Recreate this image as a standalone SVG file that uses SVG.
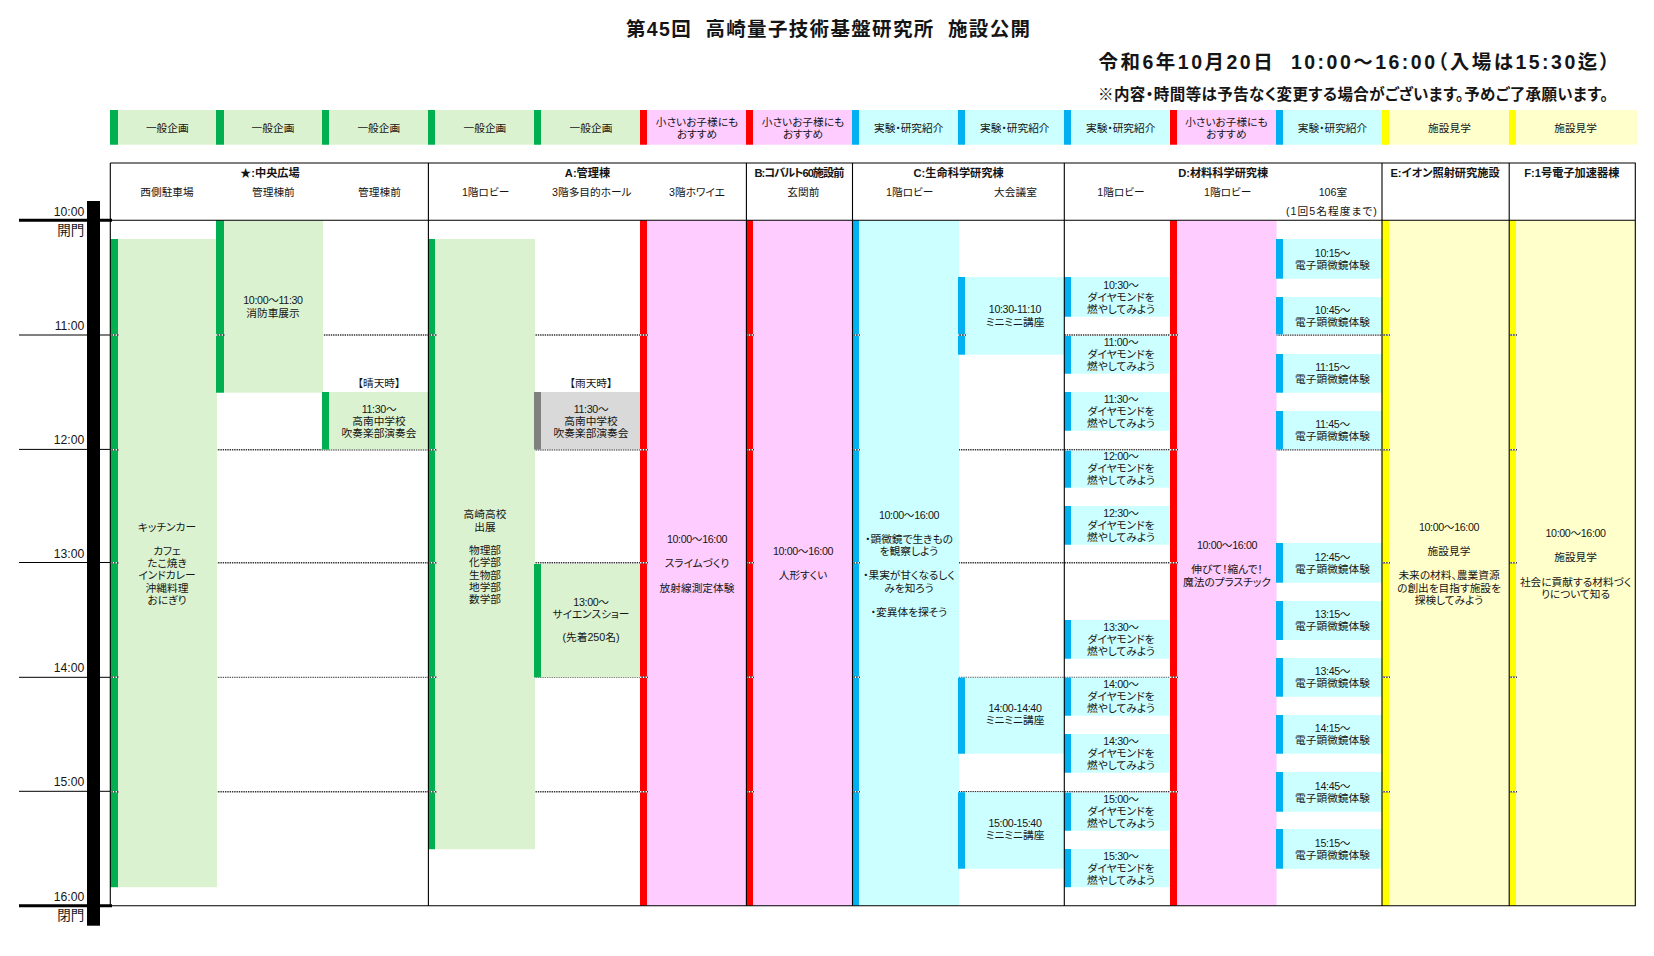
<svg xmlns="http://www.w3.org/2000/svg" width="1654" height="956" viewBox="0 0 1654 956">
<style>
text{font-family:"Liberation Sans","Noto Sans CJK JP",sans-serif;fill:#151515;font-size:10.7px;text-anchor:middle;font-feature-settings:"palt";white-space:pre}
.b{font-weight:700;font-size:11.2px}
.h{font-size:12.2px;text-anchor:end}
.k{font-size:13.5px;text-anchor:end}
.tm{letter-spacing:-.36px}
.lg{fill:#DAF2D0}.lc{fill:#CCFFFF}.lp{fill:#FFCCFF}.ly{fill:#FFFFCC}.lk{fill:#D9D9D9}
.dg{fill:#00B050}.dc{fill:#00B0F0}.dp{fill:#FF0000}.dy{fill:#FFFF00}.dk{fill:#808080}
.grid{stroke:#333;stroke-width:1.6;stroke-dasharray:1.4 .9;fill:none}
.thin{stroke-width:1}
.tb{stroke:#000;stroke-width:1.1;fill:none}
.stub{stroke:#333;stroke-width:1.4;fill:none}
.stubw{stroke:#fff;stroke-width:1.4;stroke-dasharray:1.4 1.4;fill:none}
</style>
<rect width="1654" height="956" fill="#fff"/>
<g id="title">
<text x="828" y="36" class="b" style="font-size:19.5px" textLength="404">第45回  高崎量子技術基盤研究所  施設公開</text>
<text x="1354" y="68.5" style="font-size:19.5px;font-weight:700" textLength="511">令和6年10月20日  10:00～16:00（入場は15:30迄）</text>
<text x="1353" y="99.5" style="font-size:15.5px;font-weight:700" textLength="510">※内容・時間等は予告なく変更する場合がございます。予めご了承願います。</text>
</g>
<g id="legend">
<g id="chip1"><rect x="110" y="110" width="106" height="34.7" class="lg"/><rect x="110" y="110" width="8" height="34.7" class="dg"/><text x="167.3" y="132.3">一般企画</text></g>
<g id="chip2"><rect x="216" y="110" width="106" height="34.7" class="lg"/><rect x="216" y="110" width="8" height="34.7" class="dg"/><text x="273" y="132.3">一般企画</text></g>
<g id="chip3"><rect x="322" y="110" width="106" height="34.7" class="lg"/><rect x="322" y="110" width="7" height="34.7" class="dg"/><text x="378.8" y="132.3">一般企画</text></g>
<g id="chip4"><rect x="428" y="110" width="106" height="34.7" class="lg"/><rect x="428" y="110" width="7" height="34.7" class="dg"/><text x="484.9" y="132.3">一般企画</text></g>
<g id="chip5"><rect x="534" y="110" width="106" height="34.7" class="lg"/><rect x="534" y="110" width="7" height="34.7" class="dg"/><text x="591" y="132.3">一般企画</text></g>
<g id="chip6"><rect x="640" y="110" width="106" height="34.7" class="lp"/><rect x="640" y="110" width="7" height="34.7" class="dp"/><text x="697" y="126.3">小さいお子様にも</text><text x="697" y="138">おすすめ</text></g>
<g id="chip7"><rect x="746" y="110" width="106" height="34.7" class="lp"/><rect x="746" y="110" width="7" height="34.7" class="dp"/><text x="803" y="126.3">小さいお子様にも</text><text x="803" y="138">おすすめ</text></g>
<g id="chip8"><rect x="852" y="110" width="106" height="34.7" class="lc"/><rect x="852" y="110" width="7" height="34.7" class="dc"/><text x="908.7" y="132.3">実験・研究紹介</text></g>
<g id="chip9"><rect x="958" y="110" width="106" height="34.7" class="lc"/><rect x="958" y="110" width="7" height="34.7" class="dc"/><text x="1014.8" y="132.3">実験・研究紹介</text></g>
<g id="chip10"><rect x="1064" y="110" width="106" height="34.7" class="lc"/><rect x="1064" y="110" width="7" height="34.7" class="dc"/><text x="1120.7" y="132.3">実験・研究紹介</text></g>
<g id="chip11"><rect x="1170" y="110" width="106" height="34.7" class="lp"/><rect x="1170" y="110" width="7" height="34.7" class="dp"/><text x="1226.4" y="126.3">小さいお子様にも</text><text x="1226.4" y="138">おすすめ</text></g>
<g id="chip12"><rect x="1276" y="110" width="106" height="34.7" class="lc"/><rect x="1276" y="110" width="7" height="34.7" class="dc"/><text x="1332.5" y="132.3">実験・研究紹介</text></g>
<g id="chip13"><rect x="1382" y="110" width="127" height="34.7" class="ly"/><rect x="1382" y="110" width="7" height="34.7" class="dy"/><text x="1449.5" y="132.3">施設見学</text></g>
<g id="chip14"><rect x="1509" y="110" width="128" height="34.7" class="ly"/><rect x="1509" y="110" width="7" height="34.7" class="dy"/><text x="1575.6" y="132.3">施設見学</text></g>
</g>
<g id="grid-back">
<path class="grid" d="M110 335H1635M110 449.7H1635M110 562.7H1635M110 791.7H1635"/>
<path class="grid thin" d="M110 677.3H1635"/>
</g>
<g id="column-headers">
<text x="269.9" y="177.3" class="b">★:中央広場</text>
<text x="167" y="196.3">西側駐車場</text>
<text x="273.4" y="196.3">管理棟前</text>
<text x="379.5" y="196.3">管理棟前</text>
<text x="587.5" y="177.3" class="b">A:管理棟</text>
<text x="485.6" y="196.3">1階ロビー</text>
<text x="591.8" y="196.3">3階多目的ホール</text>
<text x="697" y="196.3">3階ホワイエ</text>
<text x="799.4" y="177.3" class="b" textLength="90">B:コバルト60施設前</text>
<text x="803.3" y="196.3">玄関前</text>
<text x="958.6" y="177.3" class="b">C:生命科学研究棟</text>
<text x="909.7" y="196.3">1階ロビー</text>
<text x="1015.5" y="196.3">大会議室</text>
<text x="1223.2" y="177.3" class="b">D:材料科学研究棟</text>
<text x="1121" y="196.3">1階ロビー</text>
<text x="1227.8" y="196.3">1階ロビー</text>
<text x="1332.9" y="196.3">106室</text>
<text x="1331.4" y="215.3" textLength="91">(1回5名程度まで)</text>
<text x="1445" y="177.3" class="b">E:イオン照射研究施設</text>
<text x="1571.8" y="177.3" class="b">F:1号電子加速器棟</text>
</g>
<g id="time-axis">
<rect x="87" y="201" width="13" height="724.7" fill="#000"/>
<path stroke="#000" stroke-width="3" d="M19 220.3H112M19 905.7H112"/>
<path stroke="#000" stroke-width="1" d="M19 335H112M19 449.4H112M19 562.5H112M19 677.3H112M19 791.3H112"/>
<text x="84.3" y="215.6" class="h">10:00</text>
<text x="84.3" y="234.5" class="k">開門</text>
<text x="84.3" y="330.4" class="h">11:00</text>
<text x="84.3" y="444.4" class="h">12:00</text>
<text x="84.3" y="558.4" class="h">13:00</text>
<text x="84.3" y="672.4" class="h">14:00</text>
<text x="84.3" y="786.4" class="h">15:00</text>
<text x="84.3" y="901" class="h">16:00</text>
<text x="84.3" y="920" class="k">閉門</text>
</g>
<g id="blocks">
<g id="kitchen-car"><rect x="110" y="239" width="107" height="648.2" class="lg"/><rect x="110" y="239" width="8" height="648.2" class="dg"/>
<text x="167" y="531">キッチンカー</text><text x="167" y="555">カフェ</text><text x="167" y="567">たこ焼き</text><text x="167" y="579">インドカレー</text><text x="167" y="592">沖縄料理</text><text x="167" y="604">おにぎり</text></g>
<g id="fire-engine"><rect x="216" y="220.3" width="107" height="172.4" class="lg"/><rect x="216" y="220.3" width="8" height="172.4" class="dg"/>
<text x="273" y="304" class="tm">10:00～11:30</text><text x="273" y="317">消防車展示</text></g>
<g id="band-sunny"><text x="379" y="387">【晴天時】</text><rect x="322" y="392" width="106" height="57.5" class="lg"/><rect x="322" y="392" width="7" height="57.5" class="dg"/>
<text x="379" y="413" class="tm">11:30～</text><text x="379" y="425">高南中学校</text><text x="379" y="437">吹奏楽部演奏会</text></g>
<g id="takasaki-high"><rect x="428" y="239" width="107" height="610.2" class="lg"/><rect x="428" y="239" width="7" height="610.2" class="dg"/>
<text x="485" y="518">高崎高校</text><text x="485" y="530.7">出展</text><text x="485" y="554">物理部</text><text x="485" y="566">化学部</text><text x="485" y="579">生物部</text><text x="485" y="591">地学部</text><text x="485" y="603">数学部</text></g>
<g id="band-rainy"><text x="591" y="387">【雨天時】</text><rect x="534" y="392" width="106" height="57.5" class="lk"/><rect x="534" y="392" width="7" height="57.5" class="dk"/>
<text x="591" y="413" class="tm">11:30～</text><text x="591" y="425">高南中学校</text><text x="591" y="437">吹奏楽部演奏会</text></g>
<g id="science-show"><rect x="534" y="564" width="106" height="113.3" class="lg"/><rect x="534" y="564" width="7" height="113.3" class="dg"/>
<text x="591" y="606" class="tm">13:00～</text><text x="591" y="618">サイエンスショー</text><text x="591" y="641">(先着250名)</text></g>
<g id="slime"><rect x="640" y="220.3" width="106" height="685.4" class="lp"/><rect x="640" y="220.3" width="7" height="685.4" class="dp"/>
<text x="697" y="543" class="tm">10:00～16:00</text><text x="697" y="567">スライムづくり</text><text x="697" y="592">放射線測定体験</text></g>
<g id="doll"><rect x="746" y="220.3" width="106" height="685.4" class="lp"/><rect x="746" y="220.3" width="7" height="685.4" class="dp"/>
<text x="803" y="555" class="tm">10:00～16:00</text><text x="803" y="579">人形すくい</text></g>
<g id="microscope-life"><rect x="852" y="220.3" width="107" height="685.4" class="lc"/><rect x="852" y="220.3" width="7" height="685.4" class="dc"/>
<text x="909" y="519" class="tm">10:00～16:00</text><text x="909" y="543">・顕微鏡で生きもの</text><text x="909" y="555">を観察しよう</text><text x="909" y="579">・果実が甘くなるしく</text><text x="909" y="592">みを知ろう</text><text x="909" y="616">・変異体を探そう</text></g>
<g id="mini-1"><rect x="958" y="277" width="106" height="77.7" class="lc"/><rect x="958" y="277" width="7" height="77.7" class="dc"/><text x="1015" y="313" class="tm">10:30-11:10</text><text x="1015" y="326">ミニミニ講座</text></g>
<g id="mini-2"><rect x="958" y="677.7" width="106" height="76" class="lc"/><rect x="958" y="677.7" width="7" height="76" class="dc"/><text x="1015" y="712" class="tm">14:00-14:40</text><text x="1015" y="724">ミニミニ講座</text></g>
<g id="mini-3"><rect x="958" y="792.2" width="106" height="76.5" class="lc"/><rect x="958" y="792.2" width="7" height="76.5" class="dc"/><text x="1015" y="827" class="tm">15:00-15:40</text><text x="1015" y="839">ミニミニ講座</text></g>
<g id="dia-1030"><rect x="1064" y="277" width="106" height="39.7" class="lc"/><rect x="1064" y="277" width="7" height="39.7" class="dc"/><text x="1121" y="289" class="tm">10:30～</text><text x="1121" y="301">ダイヤモンドを</text><text x="1121" y="313">燃やしてみよう</text></g>
<g id="dia-1100"><rect x="1064" y="336" width="106" height="37.7" class="lc"/><rect x="1064" y="336" width="7" height="37.7" class="dc"/><text x="1121" y="346" class="tm">11:00～</text><text x="1121" y="358">ダイヤモンドを</text><text x="1121" y="370">燃やしてみよう</text></g>
<g id="dia-1130"><rect x="1064" y="392" width="106" height="38.7" class="lc"/><rect x="1064" y="392" width="7" height="38.7" class="dc"/><text x="1121" y="403" class="tm">11:30～</text><text x="1121" y="415">ダイヤモンドを</text><text x="1121" y="427">燃やしてみよう</text></g>
<g id="dia-1200"><rect x="1064" y="450.7" width="106" height="37" class="lc"/><rect x="1064" y="450.7" width="7" height="37" class="dc"/><text x="1121" y="460" class="tm">12:00～</text><text x="1121" y="472">ダイヤモンドを</text><text x="1121" y="484">燃やしてみよう</text></g>
<g id="dia-1230"><rect x="1064" y="506" width="106" height="38.7" class="lc"/><rect x="1064" y="506" width="7" height="38.7" class="dc"/><text x="1121" y="517" class="tm">12:30～</text><text x="1121" y="529">ダイヤモンドを</text><text x="1121" y="541">燃やしてみよう</text></g>
<g id="dia-1330"><rect x="1064" y="620" width="106" height="38.7" class="lc"/><rect x="1064" y="620" width="7" height="38.7" class="dc"/><text x="1121" y="631" class="tm">13:30～</text><text x="1121" y="643">ダイヤモンドを</text><text x="1121" y="655">燃やしてみよう</text></g>
<g id="dia-1400"><rect x="1064" y="677.7" width="106" height="38" class="lc"/><rect x="1064" y="677.7" width="7" height="38" class="dc"/><text x="1121" y="688" class="tm">14:00～</text><text x="1121" y="700">ダイヤモンドを</text><text x="1121" y="712">燃やしてみよう</text></g>
<g id="dia-1430"><rect x="1064" y="734" width="106" height="38.7" class="lc"/><rect x="1064" y="734" width="7" height="38.7" class="dc"/><text x="1121" y="745" class="tm">14:30～</text><text x="1121" y="757">ダイヤモンドを</text><text x="1121" y="769">燃やしてみよう</text></g>
<g id="dia-1500"><rect x="1064" y="792.7" width="106" height="38" class="lc"/><rect x="1064" y="792.7" width="7" height="38" class="dc"/><text x="1121" y="803" class="tm">15:00～</text><text x="1121" y="815">ダイヤモンドを</text><text x="1121" y="827">燃やしてみよう</text></g>
<g id="dia-1530"><rect x="1064" y="849" width="106" height="38.2" class="lc"/><rect x="1064" y="849" width="7" height="38.2" class="dc"/><text x="1121" y="860" class="tm">15:30～</text><text x="1121" y="872">ダイヤモンドを</text><text x="1121" y="884">燃やしてみよう</text></g>
<g id="plastic"><rect x="1170" y="220.3" width="106.6" height="685.4" class="lp"/><rect x="1170" y="220.3" width="7" height="685.4" class="dp"/>
<text x="1227" y="549" class="tm">10:00～16:00</text><text x="1227" y="573">伸びて！縮んで！</text><text x="1227" y="586">魔法のプラスチック</text></g>
<g id="em-1015"><rect x="1276" y="239" width="106" height="39.7" class="lc"/><rect x="1276" y="239" width="7" height="39.7" class="dc"/><text x="1332.5" y="257" class="tm">10:15～</text><text x="1332.5" y="269">電子顕微鏡体験</text></g>
<g id="em-1045"><rect x="1276" y="297" width="106" height="37.3" class="lc"/><rect x="1276" y="297" width="7" height="37.3" class="dc"/><text x="1332.5" y="314" class="tm">10:45～</text><text x="1332.5" y="326">電子顕微鏡体験</text></g>
<g id="em-1115"><rect x="1276" y="354" width="106" height="38.7" class="lc"/><rect x="1276" y="354" width="7" height="38.7" class="dc"/><text x="1332.5" y="371" class="tm">11:15～</text><text x="1332.5" y="383">電子顕微鏡体験</text></g>
<g id="em-1145"><rect x="1276" y="411" width="106" height="38.3" class="lc"/><rect x="1276" y="411" width="7" height="38.3" class="dc"/><text x="1332.5" y="428" class="tm">11:45～</text><text x="1332.5" y="440">電子顕微鏡体験</text></g>
<g id="em-1245"><rect x="1276" y="543" width="106" height="39.7" class="lc"/><rect x="1276" y="543" width="7" height="39.7" class="dc"/><text x="1332.5" y="561" class="tm">12:45～</text><text x="1332.5" y="573">電子顕微鏡体験</text></g>
<g id="em-1315"><rect x="1276" y="601" width="106" height="39" class="lc"/><rect x="1276" y="601" width="7" height="39" class="dc"/><text x="1332.5" y="618" class="tm">13:15～</text><text x="1332.5" y="630">電子顕微鏡体験</text></g>
<g id="em-1345"><rect x="1276" y="658" width="106" height="38.7" class="lc"/><rect x="1276" y="658" width="7" height="38.7" class="dc"/><text x="1332.5" y="675" class="tm">13:45～</text><text x="1332.5" y="687">電子顕微鏡体験</text></g>
<g id="em-1415"><rect x="1276" y="715" width="106" height="38.7" class="lc"/><rect x="1276" y="715" width="7" height="38.7" class="dc"/><text x="1332.5" y="732" class="tm">14:15～</text><text x="1332.5" y="744">電子顕微鏡体験</text></g>
<g id="em-1445"><rect x="1276" y="772" width="106" height="39.7" class="lc"/><rect x="1276" y="772" width="7" height="39.7" class="dc"/><text x="1332.5" y="790" class="tm">14:45～</text><text x="1332.5" y="802">電子顕微鏡体験</text></g>
<g id="em-1515"><rect x="1276" y="829" width="106" height="39.7" class="lc"/><rect x="1276" y="829" width="7" height="39.7" class="dc"/><text x="1332.5" y="847" class="tm">15:15～</text><text x="1332.5" y="859">電子顕微鏡体験</text></g>
<g id="tour-e"><rect x="1382" y="220.3" width="127" height="685.4" class="ly"/><rect x="1382" y="220.3" width="7" height="685.4" class="dy"/>
<text x="1449" y="531" class="tm">10:00～16:00</text><text x="1449" y="555">施設見学</text><text x="1449" y="579">未来の材料、農業資源</text><text x="1449" y="592">の創出を目指す施設を</text><text x="1449" y="604">探検してみよう</text></g>
<g id="tour-f"><rect x="1509" y="220.3" width="127" height="685.4" class="ly"/><rect x="1509" y="220.3" width="7" height="685.4" class="dy"/>
<text x="1575.6" y="537" class="tm">10:00～16:00</text><text x="1575.6" y="561">施設見学</text><text x="1575.6" y="586">社会に貢献する材料づく</text><text x="1575.6" y="598">りについて知る</text></g>
</g>
<g id="connectors">
<path class="stub" d="M110 335h9M216 335h9M428 335h9M640 335h8M746 335h8M852 335h8M958 335h8M1170 335h8M1382 335h8M1509 335h8M110 449.7h9M428 449.7h9M640 449.7h8M746 449.7h8M852 449.7h8M1170 449.7h8M1382 449.7h8M1509 449.7h8M110 562.7h9M428 562.7h9M640 562.7h8M746 562.7h8M852 562.7h8M1170 562.7h8M1382 562.7h8M1509 562.7h8M110 677.3h9M428 677.3h9M640 677.3h8M746 677.3h8M852 677.3h8M1170 677.3h8M1382 677.3h8M1509 677.3h8M110 791.7h9M428 791.7h9M640 791.7h8M746 791.7h8M852 791.7h8M1170 791.7h8M1382 791.7h8M1509 791.7h8"/>
<path class="stubw" d="M110 335h9M216 335h9M428 335h9M640 335h8M746 335h8M852 335h8M958 335h8M1170 335h8M1382 335h8M1509 335h8M110 449.7h9M428 449.7h9M640 449.7h8M746 449.7h8M852 449.7h8M1170 449.7h8M1382 449.7h8M1509 449.7h8M110 562.7h9M428 562.7h9M640 562.7h8M746 562.7h8M852 562.7h8M1170 562.7h8M1382 562.7h8M1509 562.7h8M110 677.3h9M428 677.3h9M640 677.3h8M746 677.3h8M852 677.3h8M1170 677.3h8M1382 677.3h8M1509 677.3h8M110 791.7h9M428 791.7h9M640 791.7h8M746 791.7h8M852 791.7h8M1170 791.7h8M1382 791.7h8M1509 791.7h8"/>
<path class="tb" d="M110.3 163H1635.8M110.3 220.3H1635.8M110.3 905.7H1635.8M110.3 163V905.7M428.4 163V905.7M746.4 163V905.7M852.5 163V905.7M1064.3 163V905.7M1382 163V905.7M1509.2 163V905.7M1635.3 163V905.7"/>
</g>
</svg>
